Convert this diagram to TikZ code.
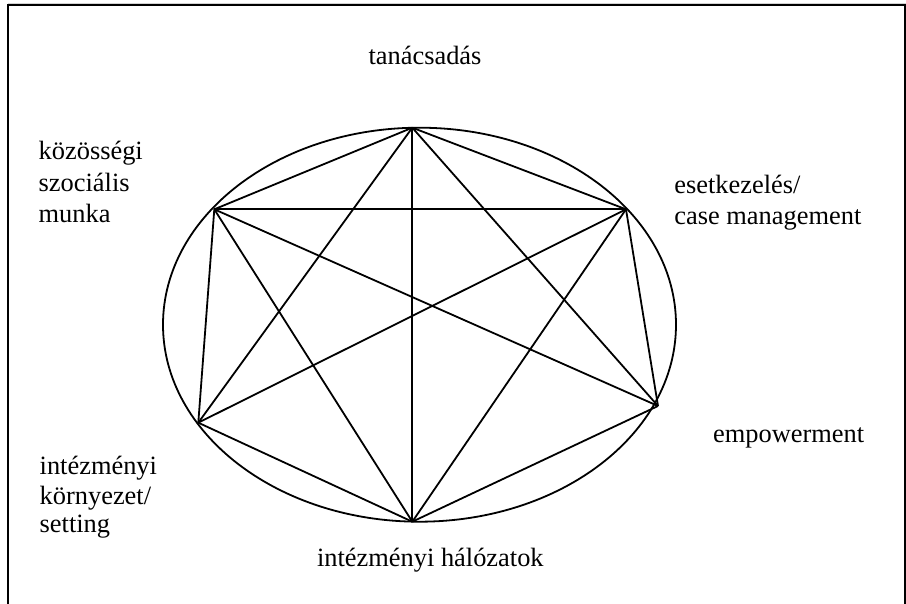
\documentclass[tikz,border=0pt]{standalone}
\usepackage{fontspec}
\setmainfont{Liberation Serif}
\begin{document}
\begin{tikzpicture}[x=0.5pt,y=-0.5pt,
  edge/.style={line width=0.9pt, line join=round},
  lbl/.style={anchor=base west, inner sep=0pt, font=\fontsize{13.2}{15.5}\selectfont},
  lblc/.style={lbl, anchor=base}]
\useasboundingbox (0,0) rectangle (906,604);
% frame
\draw[gray!35, line width=0.6pt] (8,3.3) -- (906,3.3);
\draw[line width=1pt] (7.8,620) -- (7.8,5) -- (905,5) -- (905,620);
% ring
\draw[line width=0.9pt] (419.5,324.7) ellipse [x radius=256.5, y radius=197];
% vertices
\coordinate (T)  at (412.3,127.7);
\coordinate (UL) at (214.3,209.3);
\coordinate (UR) at (626,209.3);
\coordinate (R)  at (658,406);
\coordinate (LL) at (198.3,422.7);
\coordinate (B)  at (412.3,521.7);
% connectors
\draw[edge] (T) -- (UL);
\draw[edge] (T) -- (UR);
\draw[edge] (T) -- (R);
\draw[edge] (T) -- (LL);
\draw[edge] (T) -- (B);
\draw[edge] (UL) -- (UR);
\draw[edge] (UL) -- (LL);
\draw[edge] (UL) -- (B);
\draw[edge] (UL) -- (R);
\draw[edge] (UR) -- (R);
\draw[edge] (UR) -- (LL);
\draw[edge] (UR) -- (B);
\draw[edge] (R) -- (B);
\draw[edge] (LL) -- (B);
% labels
\node[lblc] (tan) at (425,65) {tanácsadás};
\node[lbl] (koz1) at (38.3,160) {közösségi};
\node[lbl] (koz2) at (38.3,191.5) {szociális};
\node[lbl] (koz3) at (38.3,223) {munka};
\node[lbl] (ese1) at (674,194) {esetkezelés/};
\node[lbl] (ese2) at (674,225) {case management};
\node[lbl] (emp) at (712.7,442.7) {empowerment};
\node[lbl] (int1) at (39.3,474.3) {intézményi};
\node[lbl] (int2) at (39.3,505) {környezet/};
\node[lbl] (int3) at (39.3,532) {setting};
\node[lbl] (hal) at (316.7,566.7) {intézményi hálózatok};
\end{tikzpicture}
\end{document}
